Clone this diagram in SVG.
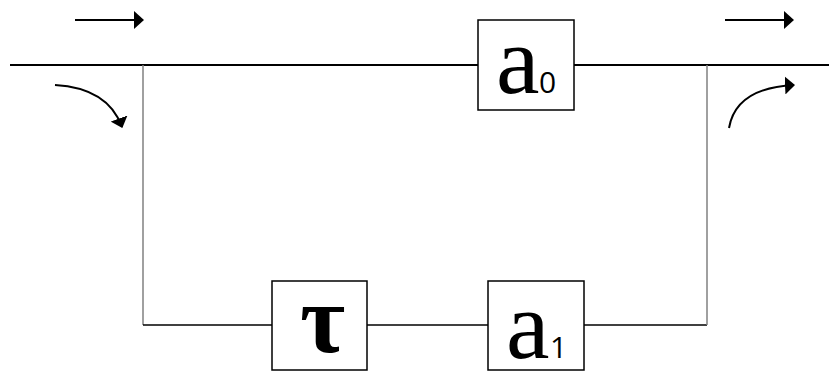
<svg xmlns="http://www.w3.org/2000/svg" width="829" height="372" viewBox="0 0 829 372">
<style>
.box{fill:#fff;stroke:#000;stroke-width:1.5}
.main{stroke:#000;stroke-width:2;fill:none}
.branch{stroke:#808080;stroke-width:1.5;fill:none}
.low{stroke:#000;stroke-width:1.5;fill:none}
.arr{stroke:#000;stroke-width:2;fill:none}
.big{font-family:'Liberation Serif','Times New Roman',serif;font-size:98px;fill:#000}
.sub{font-family:'Open Sans','Liberation Sans',sans-serif;font-size:30px;fill:#000}
</style>
<defs>
<marker id="ah" viewBox="0 0 10 18" refX="9" refY="9" markerWidth="10" markerHeight="18" markerUnits="userSpaceOnUse" orient="auto">
<path d="M0,0 L10,9 L0,18 z" fill="#000"/>
</marker>
</defs>
<g id="connectors">
<line class="main" x1="10" y1="65" x2="478" y2="65"/>
<line class="main" x1="574" y1="65" x2="829" y2="65"/>
<line class="branch" x1="143" y1="65" x2="143" y2="325"/>
<line class="low" x1="143" y1="325" x2="272" y2="325"/>
<line class="low" x1="367" y1="325" x2="488" y2="325"/>
<line class="low" x1="584" y1="325" x2="707" y2="325"/>
<line class="branch" x1="707" y1="65" x2="707" y2="325"/>
<line class="arr" x1="75" y1="20" x2="143" y2="20" marker-end="url(#ah)"/>
<line class="arr" x1="725" y1="20" x2="793" y2="20" marker-end="url(#ah)"/>
<path class="arr" d="M55,85 Q108,88 122,127" marker-end="url(#ah)"/>
<path class="arr" d="M729,128 Q736,88 794,85" marker-end="url(#ah)"/>
</g>
<g id="a0">
<rect class="box" x="478" y="20" width="96" height="90"/>
<text class="big" x="496" y="93">a</text>
<text class="sub" x="539" y="93">0</text>
</g>
<g id="tau">
<rect class="box" x="272" y="281" width="95" height="89"/>
<text class="big" x="300" y="352" font-size="88" font-weight="bold">τ</text>
</g>
<g id="a1">
<rect class="box" x="488" y="281" width="96" height="89"/>
<text class="big" x="506" y="358">a</text>
<text class="sub" x="550" y="358">1</text>
</g>
</svg>
